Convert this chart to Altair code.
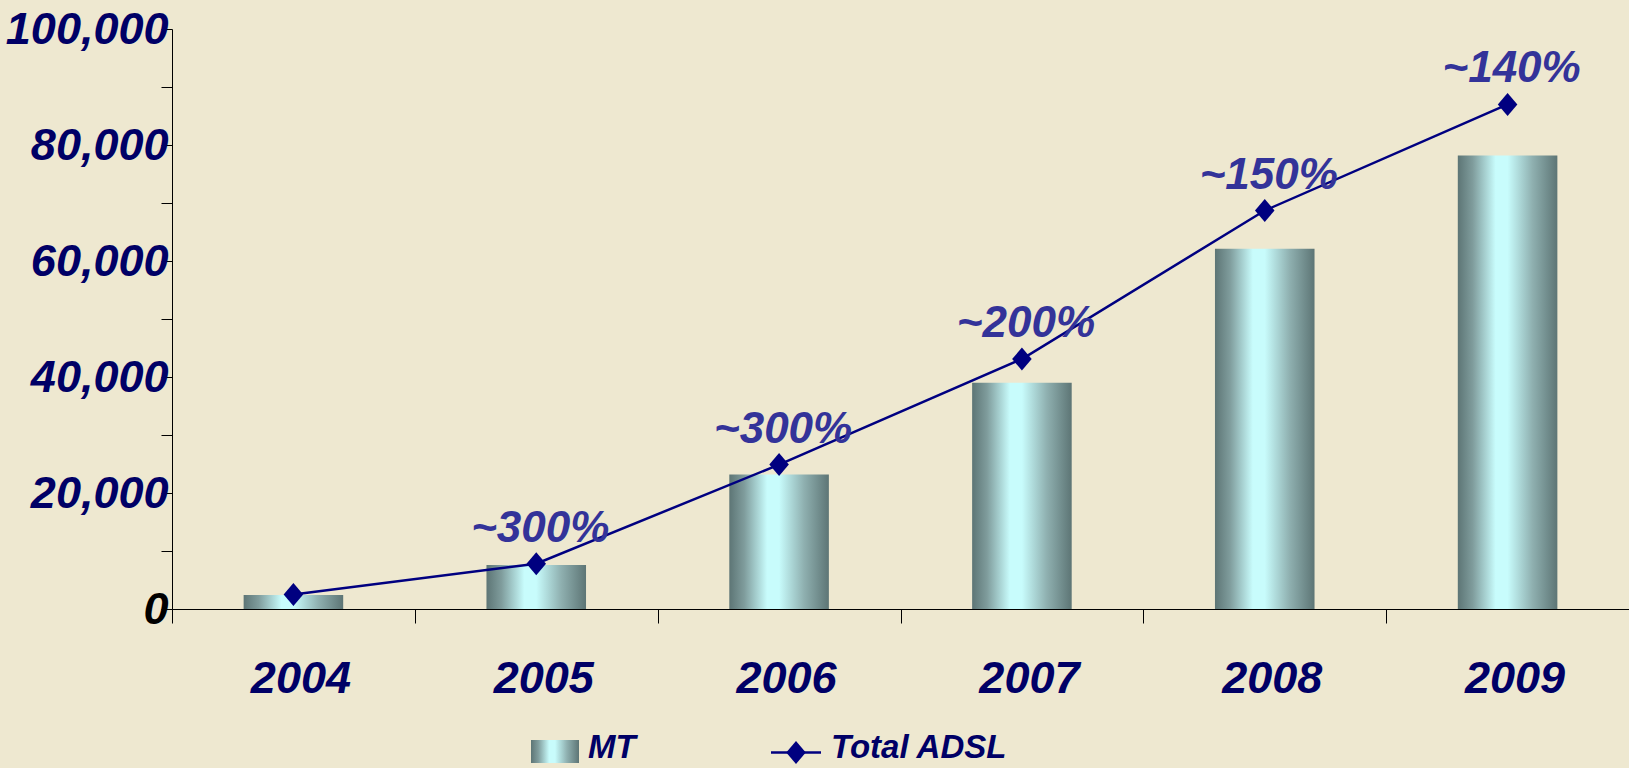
import altair as alt
import pandas as pd

# ---- data ----
years = ["2004", "2005", "2006", "2007", "2008", "2009"]
mt_values = [2400, 7600, 23200, 39000, 62100, 78200]
total_adsl = [2500, 7800, 24900, 43100, 68700, 87000]
growth_labels = ["", "~300%", "~300%", "~200%", "~150%", "~140%"]
legend_labels = ["MT", "Total ADSL"]
y_ticks = [0, 10000, 20000, 30000, 40000, 50000, 60000, 70000, 80000, 90000, 100000]

df = pd.DataFrame({"year": years, "MT": mt_values, "Total": total_adsl, "growth": growth_labels})

NAVY = "#000066"
LINE = "#000080"
FONT = "Liberation Sans"
DIAMOND = "M-0.85,0L0,-1L0.85,0L0,1Z"

bar_gradient = alt.LinearGradient(
    gradient="linear",
    x1=0, x2=1, y1=0, y2=0,
    stops=[
        alt.GradientStop(offset=0.0, color="#5d7575"),
        alt.GradientStop(offset=0.15, color="#7f9c9c"),
        alt.GradientStop(offset=0.38, color="#c8fcfc"),
        alt.GradientStop(offset=0.5, color="#c8fcfc"),
        alt.GradientStop(offset=0.75, color="#8fb0b0"),
        alt.GradientStop(offset=1.0, color="#5d7575"),
    ],
)

x_enc = alt.X(
    "year:N",
    title=None,
    sort=years,
    scale=alt.Scale(paddingInner=0, paddingOuter=0),
    axis=alt.Axis(
        labelAngle=0,
        tickBand="extent",
        tickSize=14,
        labelPadding=33,
        labelOffset=7,
        labelFont=FONT,
        labelFontSize=45,
        labelFontStyle="italic",
        labelFontWeight="bold",
        labelColor=NAVY,
        domainColor="black",
        tickColor="black",
        grid=False,
    ),
)

y_scale = alt.Scale(domain=[0, 100000], nice=False)
y_axis = alt.Axis(
    values=y_ticks,
    labelExpr="datum.value % 20000 == 0 ? format(datum.value, ',') : ''",
    tickSize=11,
    labelPadding=-7,
    labelFont=FONT,
    labelFontSize=45,
    labelFontStyle="italic",
    labelFontWeight="bold",
    labelColor={"condition": {"test": "datum.value == 0", "value": "black"}, "value": NAVY},
    domainColor="black",
    tickColor="black",
    grid=False,
    labelBaseline="middle",
)

base = alt.Chart(df)

bars = base.mark_bar(width=alt.RelativeBandSize(0.41), color=bar_gradient).encode(
    x=x_enc,
    y=alt.Y("MT:Q", title=None, scale=y_scale, axis=y_axis),
)

line = base.mark_line(color=LINE, strokeWidth=2.5).encode(
    x=x_enc,
    y=alt.Y("Total:Q", title=None, scale=y_scale, axis=y_axis),
)

points = base.mark_point(shape=DIAMOND, size=529, filled=True, color=LINE, opacity=1).encode(
    x=x_enc,
    y=alt.Y("Total:Q", title=None, scale=y_scale, axis=y_axis),
)

labels = base.transform_filter("datum.growth != ''").mark_text(
    dy=-22, dx=4, baseline="alphabetic", align="center",
    font=FONT, fontSize=44, fontStyle="italic", fontWeight="bold", color="#333399",
).encode(
    x=x_enc,
    y=alt.Y("Total:Q", title=None, scale=y_scale, axis=y_axis),
    text="growth:N",
)

# ---- manual legend below the plot ----
leg_df = pd.DataFrame({"label": legend_labels})
leg_base = alt.Chart(leg_df)

leg_swatch = leg_base.transform_filter(alt.datum.label == "MT").mark_rect(color=bar_gradient).encode(
    x=alt.value(359), x2=alt.value(407), y=alt.value(711), y2=alt.value(734)
)
leg_rule = leg_base.transform_filter(alt.datum.label == "Total ADSL").mark_rule(color=LINE, strokeWidth=2.5).encode(
    x=alt.value(599), x2=alt.value(649), y=alt.value(723.5)
)
leg_point = leg_base.transform_filter(alt.datum.label == "Total ADSL").mark_point(
    shape=DIAMOND, size=529, filled=True, color=LINE, opacity=1
).encode(x=alt.value(624), y=alt.value(723.5))

leg_text_mt = leg_base.transform_filter(alt.datum.label == "MT").mark_text(
    align="left", baseline="alphabetic", font=FONT, fontSize=33,
    fontStyle="italic", fontWeight="bold", color=NAVY,
).encode(x=alt.value(416), y=alt.value(729), text="label:N")
leg_text_total = leg_base.transform_filter(alt.datum.label == "Total ADSL").mark_text(
    align="left", baseline="alphabetic", font=FONT, fontSize=33,
    fontStyle="italic", fontWeight="bold", color=NAVY,
).encode(x=alt.value(659), y=alt.value(729), text="label:N")

chart = alt.layer(
    bars, line, points, labels, leg_swatch, leg_rule, leg_point, leg_text_mt, leg_text_total
).properties(
    width=1457,
    height=580,
    autosize=alt.AutoSizeParams(type="none"),
    padding={"left": 172, "top": 29, "right": 0, "bottom": 159},
    background="#eee8d0",
).configure_view(stroke=None)

chart.save("out.html", embed_options={"renderer": "svg", "actions": False})
